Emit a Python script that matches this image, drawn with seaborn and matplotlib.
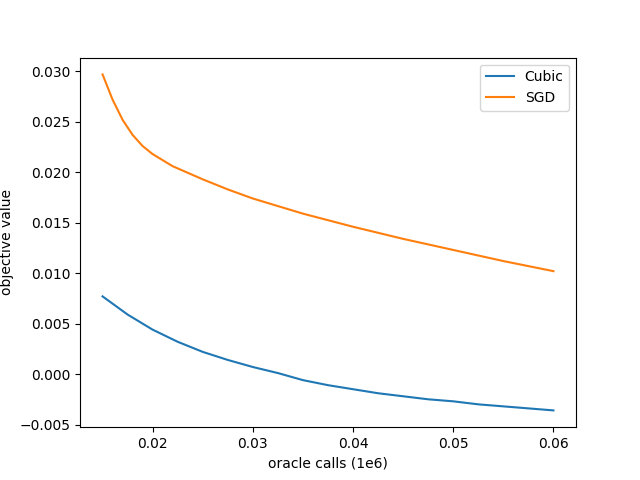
import matplotlib
matplotlib.use("Agg")
import matplotlib.pyplot as plt
import pandas as pd
import seaborn as sns

cubic_x = [0.015, 0.0175, 0.02, 0.0225, 0.025, 0.0275, 0.03, 0.0325, 0.035, 0.0375,
           0.04, 0.0425, 0.045, 0.0475, 0.05, 0.0525, 0.055, 0.0575, 0.06]
cubic_y = [0.0077, 0.0059, 0.0044, 0.0032, 0.0022, 0.0014, 0.0007, 0.0001, -0.0006, -0.0011,
           -0.0015, -0.0019, -0.0022, -0.0025, -0.0027, -0.0030, -0.0032, -0.0034, -0.0036]

sgd_x = [0.015, 0.016, 0.017, 0.018, 0.019, 0.02, 0.022, 0.025, 0.0275, 0.03, 0.035,
         0.04, 0.045, 0.05, 0.055, 0.06]
sgd_y = [0.0297, 0.0272, 0.0252, 0.0237, 0.0226, 0.0218, 0.0206, 0.0193, 0.0183, 0.0174,
         0.0159, 0.0146, 0.0134, 0.0123, 0.0112, 0.0102]

df = pd.concat([
    pd.DataFrame({"x": cubic_x, "y": cubic_y, "method": "Cubic"}),
    pd.DataFrame({"x": sgd_x, "y": sgd_y, "method": "SGD"}),
])

fig, ax = plt.subplots(figsize=(6.4, 4.8), dpi=100)
sns.lineplot(data=df, x="x", y="y", hue="method", palette=["#1f77b4", "#ff7f0e"], ax=ax)
ax.legend(title=None, loc="upper right")
ax.set_xlabel("oracle calls (1e6)")
ax.set_ylabel("objective value")
fig.savefig("out.png", dpi=100)
